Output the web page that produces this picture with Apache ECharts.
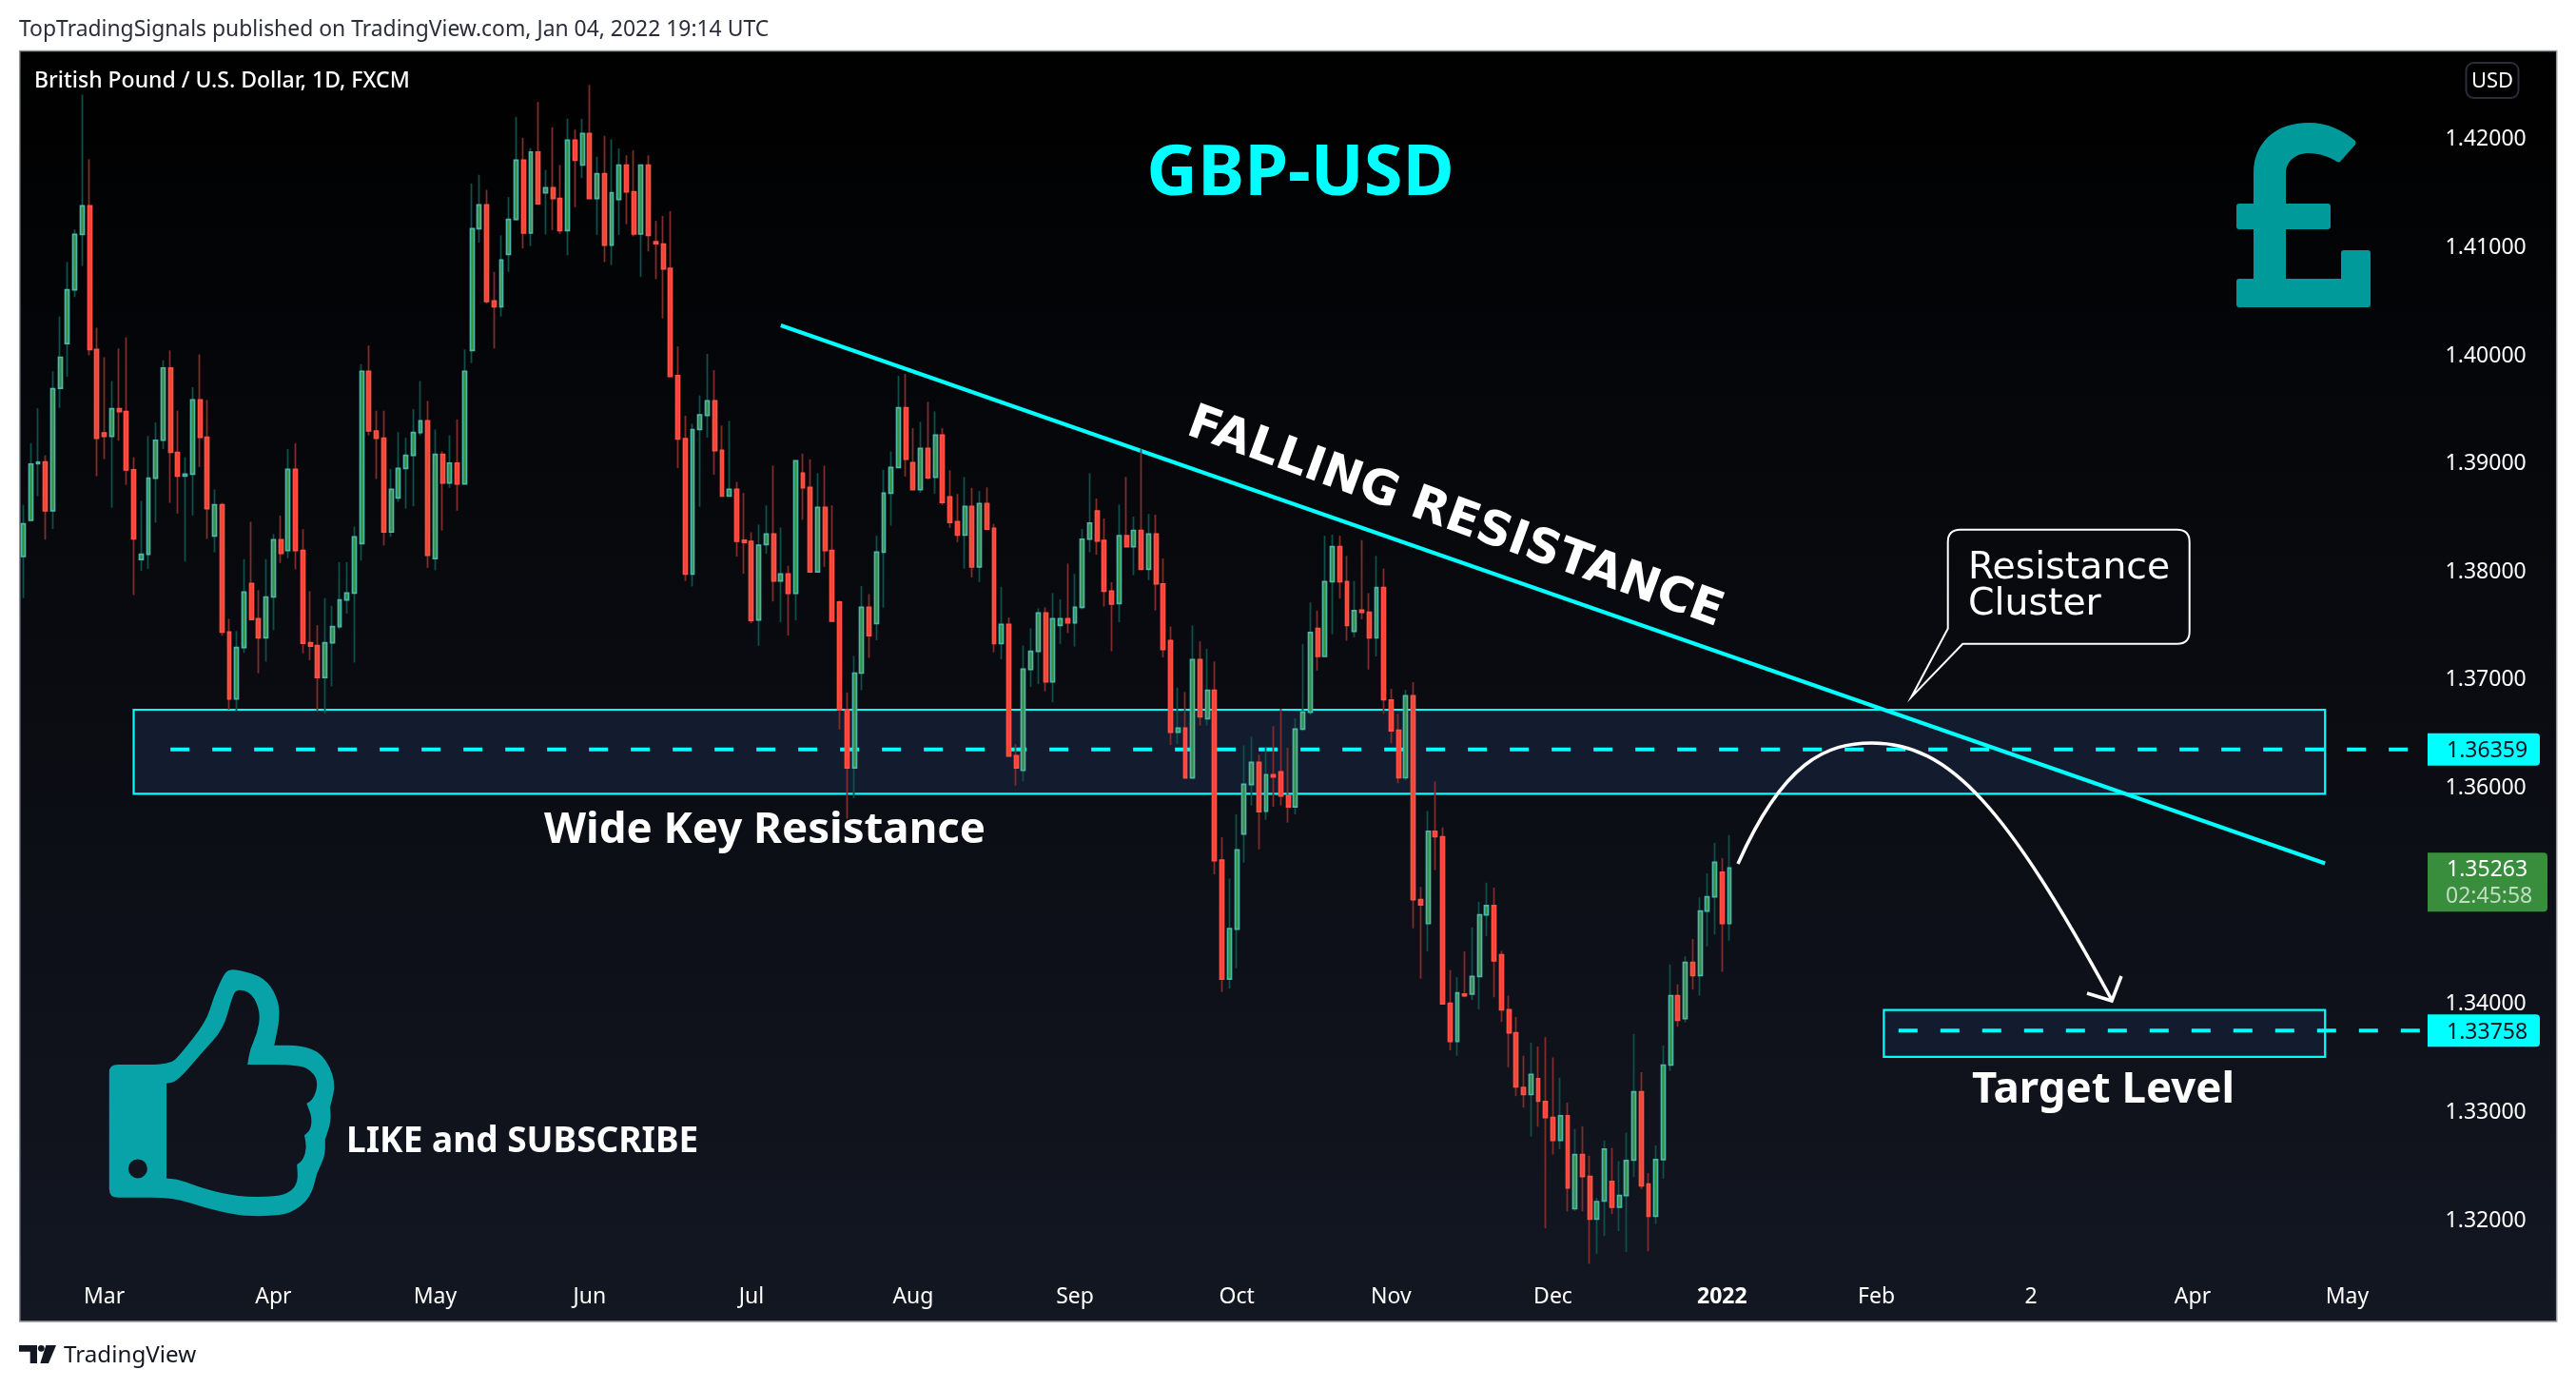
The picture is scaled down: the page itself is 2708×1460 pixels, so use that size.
<!DOCTYPE html>
<html><head><meta charset="utf-8">
<style>html,body{margin:0;padding:0;background:#fff}#c{width:2708px;height:1460px}</style>
<script src="https://cdn.jsdelivr.net/npm/echarts@6/dist/echarts.min.js"></script>
</head><body><div id="c"></div>
<script>
const OPENS=[1.38145,1.38478,1.39003,1.39017,1.38567,1.397,1.40113,1.40611,1.41123,1.41388,1.40059,1.39286,1.39255,1.39511,1.39484,1.38945,1.38115,1.38164,1.38869,1.39219,1.39888,1.39107,1.38887,1.38905,1.39592,1.39246,1.38334,1.38621,1.37445,1.36826,1.37302,1.37894,1.37567,1.37391,1.37769,1.38299,1.382,1.3895,1.382,1.37346,1.37319,1.37023,1.37346,1.37495,1.37742,1.37805,1.38263,1.39857,1.39305,1.39237,1.3837,1.38685,1.38959,1.3908,1.39291,1.39399,1.38124,1.39089,1.38824,1.39008,1.38815,1.4005,1.41177,1.41397,1.40508,1.40454,1.40939,1.41262,1.4181,1.41136,1.41886,1.41509,1.41554,1.41455,1.41159,1.41994,1.41765,1.42057,1.41455,1.41684,1.41024,1.41446,1.41765,1.41518,1.41128,1.41765,1.41056,1.41034,1.4081,
1.39816,1.39234,1.37981,1.39318,1.39449,1.39584,1.39126,1.38702,1.38766,1.38294,1.38284,1.37556,1.38254,1.38351,1.37917,1.37981,1.37802,1.38914,1.38783,1.38001,1.38597,1.382,1.37721,1.36728,1.36189,1.37065,1.37674,1.37523,1.38183,1.38729,1.38968,1.3952,1.39011,1.38762,1.39143,1.38877,1.39267,1.38695,1.38466,1.38341,1.38607,1.38048,1.38634,1.38405,1.37338,1.37516,1.363,1.36165,1.37098,1.37267,1.3762,1.36984,1.37506,1.37567,1.3753,1.37674,1.38304,1.38564,1.38291,1.37823,1.37708,1.38335,1.38234,1.38385,1.38025,1.38351,1.3789,1.37365,1.36519,1.36556,1.36095,1.37189,1.36644,1.36906,
1.35335,1.34235,1.34696,1.35576,1.36034,1.36239,1.35787,1.36125,1.36151,1.35931,1.35828,1.36547,1.36703,1.37477,1.37219,1.37911,1.38235,1.37911,1.37451,1.37648,1.37628,1.37391,1.37856,1.36815,1.36537,1.36097,1.36855,1.3497,1.34748,1.35602,1.35551,1.3401,1.33657,1.34096,1.34096,1.34258,1.34829,1.34915,1.3446,1.3395,1.33737,1.33232,1.33166,1.33313,1.33101,1.32954,1.32742,1.32969,1.3211,1.32611,1.32408,1.32014,1.32181,1.32363,1.32125,1.32232,1.3256,1.33192,1.32338,1.3204,1.32565,1.33439,1.34081,1.33869,1.34389,1.34268,1.34864,1.34996,1.35223,1.34748];
const CLOSES=[1.38446,1.38999,1.39017,1.38567,1.39695,1.39987,1.40611,1.41123,1.41388,1.40059,1.39237,1.39255,1.39511,1.39484,1.38945,1.38307,1.38164,1.38869,1.39219,1.39888,1.39107,1.38887,1.38905,1.39592,1.39246,1.38586,1.38621,1.37445,1.36826,1.37302,1.37814,1.37562,1.37391,1.37769,1.38299,1.38173,1.3895,1.382,1.37342,1.37315,1.37023,1.37346,1.37495,1.37742,1.37805,1.38325,1.39857,1.39305,1.39237,1.3837,1.38765,1.38959,1.3908,1.39291,1.39399,1.38155,1.39089,1.38824,1.39008,1.38815,1.39857,1.41177,1.41397,1.40503,1.40454,1.40885,1.41262,1.4181,1.41136,1.41886,1.41406,1.41554,1.41455,1.41159,1.41994,1.4181,1.42057,1.41455,1.41684,1.41024,1.41509,1.41765,1.41518,1.41128,1.41765,1.41114,1.41038,1.40804,1.39809,
1.3923,1.37981,1.39318,1.39453,1.39584,1.39123,1.38702,1.38766,1.38284,1.38274,1.37553,1.38247,1.38351,1.37917,1.37981,1.37802,1.39028,1.38779,1.38001,1.38597,1.382,1.37546,1.36728,1.36189,1.37065,1.37674,1.37412,1.38183,1.38729,1.38968,1.3952,1.39045,1.38762,1.39143,1.38873,1.39267,1.38644,1.38459,1.38341,1.38607,1.38048,1.38634,1.38398,1.37338,1.37516,1.36297,1.36189,1.37102,1.37267,1.3762,1.36984,1.37567,1.37567,1.3753,1.37674,1.38304,1.38452,1.38287,1.37823,1.37705,1.38335,1.38234,1.38385,1.38025,1.38351,1.3789,1.37284,1.36519,1.36556,1.36095,1.37189,1.36661,1.36906,1.3533,
1.34235,1.34702,1.35429,1.36037,1.36239,1.35784,1.36125,1.36104,1.35928,1.35828,1.36547,1.36703,1.37441,1.37219,1.37911,1.38235,1.37911,1.37507,1.37643,1.37628,1.37391,1.37856,1.3682,1.36532,1.36097,1.36855,1.3497,1.3492,1.35602,1.35551,1.34005,1.33657,1.34106,1.34081,1.34258,1.34829,1.34915,1.34404,1.3395,1.33737,1.33237,1.33166,1.33353,1.33106,1.32954,1.32742,1.32969,1.32302,1.32611,1.32408,1.32014,1.32176,1.32661,1.32125,1.32232,1.32555,1.33192,1.32322,1.3204,1.32565,1.33439,1.34081,1.33854,1.34389,1.34268,1.34864,1.34996,1.35314,1.34748,1.35263];
const LOWS=[1.37759,1.38478,1.38702,1.38299,1.38397,1.3952,1.39807,1.40544,1.40831,1.40005,1.38887,1.39044,1.38595,1.39215,1.38806,1.37787,1.38011,1.38029,1.38456,1.39138,1.3864,1.38541,1.38097,1.38523,1.38972,1.38307,1.38182,1.37409,1.36727,1.36709,1.37252,1.37553,1.37064,1.37171,1.37463,1.38083,1.38128,1.38025,1.37248,1.37185,1.36704,1.36691,1.36942,1.37472,1.37616,1.37162,1.38106,1.39264,1.3886,1.38245,1.38325,1.38649,1.38586,1.38608,1.39264,1.38038,1.38016,1.38384,1.38779,1.38567,1.3881,1.39933,1.41047,1.40485,1.40068,1.40364,1.40777,1.41249,1.40993,1.41015,1.41406,1.41123,1.41163,1.41128,1.4093,1.41375,1.41644,1.41455,1.41119,1.40867,1.4084,1.41119,1.41217,1.41105,1.40732,1.40966,1.4071,1.40346,1.39809,
1.38961,1.37917,1.37866,1.38604,1.39244,1.389,1.38702,1.38698,1.38143,1.37984,1.37526,1.37317,1.38169,1.37728,1.37536,1.37412,1.37553,1.38483,1.38001,1.38001,1.38048,1.37546,1.36543,1.35718,1.35909,1.36906,1.37206,1.37368,1.37671,1.38429,1.38968,1.38883,1.38762,1.38732,1.38857,1.38725,1.38621,1.38409,1.38277,1.38031,1.3795,1.37907,1.38398,1.37257,1.37193,1.36297,1.36024,1.36064,1.36937,1.36964,1.36896,1.36795,1.37334,1.37435,1.37311,1.37654,1.38183,1.38159,1.37681,1.37267,1.37536,1.38234,1.37971,1.38025,1.37924,1.37644,1.3721,1.36401,1.36408,1.36095,1.36095,1.3658,1.3658,1.35203,
1.34115,1.34147,1.34335,1.35312,1.3584,1.35435,1.35708,1.35828,1.3584,1.35682,1.35758,1.36527,1.36678,1.37088,1.37219,1.37426,1.37754,1.37365,1.37396,1.37562,1.37098,1.37219,1.36688,1.36415,1.36047,1.36072,1.34703,1.34238,1.3449,1.35243,1.34005,1.33576,1.33525,1.34066,1.34041,1.33955,1.34632,1.34066,1.33838,1.33419,1.33151,1.33045,1.32777,1.32868,1.31928,1.32611,1.32661,1.32085,1.3209,1.32085,1.316,1.31691,1.31858,1.3206,1.31903,1.31711,1.32403,1.32292,1.31716,1.31969,1.32388,1.33384,1.33793,1.33833,1.34137,1.34081,1.34536,1.34647,1.34303,1.34591];
const HIGHS=[1.38621,1.39192,1.39515,1.3908,1.39857,1.40364,1.40867,1.41168,1.42416,1.41819,1.40261,1.39987,1.39767,1.40068,1.40171,1.39062,1.38658,1.39259,1.39385,1.3996,1.4005,1.39493,1.39062,1.39709,1.40014,1.39592,1.38765,1.3864,1.37567,1.37454,1.38119,1.38465,1.37832,1.38119,1.38352,1.38523,1.39138,1.39192,1.38397,1.37823,1.37508,1.37759,1.37688,1.38092,1.38092,1.3842,1.39924,1.40095,1.39493,1.39493,1.38954,1.39295,1.39242,1.39507,1.39767,1.39583,1.39318,1.39116,1.39264,1.39412,1.40059,1.41595,1.41675,1.41536,1.40777,1.41114,1.41469,1.4221,1.42017,1.41922,1.42349,1.4172,1.42115,1.41765,1.42196,1.42093,1.42192,1.42506,1.41842,1.42035,1.42003,1.41918,1.41855,1.419,1.41765,1.41855,1.41249,1.41294,1.41338,
1.40086,1.39446,1.39372,1.39634,1.40019,1.39867,1.39355,1.39399,1.38833,1.38732,1.38368,1.38439,1.38617,1.38984,1.38412,1.38058,1.39028,1.39096,1.39042,1.38914,1.38984,1.38617,1.37735,1.36886,1.37223,1.3787,1.37796,1.38338,1.38944,1.39116,1.39816,1.39833,1.39331,1.39389,1.39574,1.39486,1.39331,1.38941,1.38722,1.3888,1.38779,1.38749,1.38783,1.38446,1.37863,1.3758,1.36408,1.37321,1.37479,1.37664,1.37674,1.37806,1.37748,1.38078,1.37984,1.38398,1.38914,1.38681,1.38496,1.37907,1.38624,1.3888,1.38513,1.39136,1.38537,1.3853,1.38126,1.37496,1.3693,1.3689,1.37506,1.37358,1.3729,1.37172,
1.35547,1.35165,1.35758,1.36398,1.36477,1.3631,1.3638,1.36574,1.36735,1.36374,1.36647,1.37335,1.37719,1.37643,1.38336,1.38346,1.38336,1.38149,1.37916,1.38295,1.37805,1.38149,1.38032,1.36921,1.36688,1.36911,1.36981,1.35087,1.35789,1.36062,1.35637,1.34318,1.34253,1.3449,1.34713,1.3495,1.35127,1.35081,1.34495,1.34081,1.33884,1.33525,1.33646,1.33611,1.33697,1.3351,1.33323,1.33091,1.32848,1.32873,1.326,1.32211,1.32742,1.32671,1.3255,1.32813,1.33727,1.33373,1.32439,1.32696,1.33621,1.34369,1.34187,1.34445,1.34606,1.3499,1.35213,1.35496,1.35354,1.35566];

const MONTH_LABELS=['Mar','Apr','May','Jun','Jul','Aug','Sep','Oct','Nov','Dec','2022','Feb','2','Apr','May'];
const MONTH_INDEX=[11,34,56,77,99,121,143,165,186,208,231,252,273,295,316];
const PRICE_TICKS=[1.32,1.33,1.34,1.36,1.37,1.38,1.39,1.40,1.41,1.42];
const BAND_COUNT=345;
const TREND_LINE=[[103,1.40282],[313,1.35305]];
const KEY_ZONE=[15,313,1.36726,1.35949];
const KEY_LEVEL=[[20,1.36359],[327,1.36359]];
const TARGET_ZONE=[253,313,1.33948,1.33515];
const TARGET_LEVEL=[[255,1.33758],[327,1.33758]];
const TAG_PRICES=[1.36359,1.33758,1.35263];
const TAG_TEXT=['1.36359','1.33758','1.35263'];
const COUNTDOWN='02:45:58';

const CATS=Array.from({length:BAND_COUNT},(_,i)=>String(i));
const wickData=OPENS.map((o,i)=>[o,CLOSES[i],LOWS[i],HIGHS[i]]);
const bodyData=OPENS.map((o,i)=>[o,CLOSES[i],Math.min(o,CLOSES[i]),Math.max(o,CLOSES[i])]);

const CYAN='#00ffff', UI='"Noto Sans",sans-serif', DJ='"DejaVu Sans",sans-serif';

function smooth(p){let m=(a,b)=>[(a[0]+b[0])/2,(a[1]+b[1])/2];let s=m(p[p.length-1],p[0]);let d='M'+s[0]+' '+s[1];
 p.forEach((q,i)=>{let e=m(q,p[(i+1)%p.length]);d+=' Q'+q[0]+' '+q[1]+' '+e[0]+' '+e[1];});return d+' Z';}
const thumbOuter=[[114.8,1135],[114.8,1119],[133,1119],[178.6,1119],[190,1108],[216.8,1073.6],[224.5,1048.3],[234.7,1025.2],[240,1019.3],[250,1019.3],[278,1027.3],[291.8,1048.3],[294.4,1069.4],[288.3,1098.8],[288.3,1098.8],[316.3,1098.8],[339.3,1107.2],[353.6,1136.7],[347,1164],[347,1164],[348,1178.8],[341.8,1197.7],[341.8,1197.7],[341.8,1214.6],[333.2,1233.5],[333.2,1233.5],[326.5,1258.8],[306,1275.6],[280.6,1278.5],[250,1277.7],[214.3,1269.3],[182.7,1258.8],[133.7,1258.8],[114.8,1258.8],[114.8,1240]];
const thumbInner=[[175,1138.8],[175,1138.8],[186.2,1136.7],[211.7,1107.2],[234.7,1082],[243.9,1048.3],[249,1039],[265.3,1044],[274,1065.2],[270.4,1086.2],[262.8,1103],[260.2,1119],[260.2,1119],[316.3,1119],[330.6,1128.3],[334.2,1140.9],[329.1,1155.6],[322.4,1159.9],[322.4,1159.9],[328,1174.6],[326.5,1187.2],[320,1193.5],[320,1193.5],[322.4,1206.1],[318.9,1218.8],[312.2,1224.2],[312.2,1224.2],[313.3,1241.9],[306,1252.4],[290.8,1257.9],[250,1257.9],[214.3,1249.5],[188.8,1239.8],[175,1238.6],[175,1238.6]].reverse();
const THUMB=smooth(thumbOuter)+' '+smooth(thumbInner)+' M154.9 1228.4 A10 10 0 1 0 134.9 1228.4 A10 10 0 1 0 154.9 1228.4 Z';
const POUND='M2369 182 C2369 150 2392 129 2427 129 C2447 129 2463 137 2476 148 Q2477 150 2476 152 L2460 170 Q2459 171 2457 170 C2449 165 2438 161 2427 161 C2413 161 2403 170 2403 182 L2403 214 L2447 214 Q2450 214 2450 217 L2450 238 Q2450 241 2447 241 L2403 241 L2403 293 L2461 293 L2461 266 Q2461 263 2464 263 L2489 263 Q2492 263 2492 266 L2492 320 Q2492 323 2489 323 L2354 323 Q2351 323 2351 320 L2351 296 Q2351 293 2354 293 L2369 293 L2369 241 L2354 241 Q2351 241 2351 238 L2351 217 Q2351 214 2354 214 L2369 214 Z';
const ARC='M1827 908 C1875 800 1920 781 1968 781 C2050 781 2110 850 2220 1051';
const HEAD='M2194 1044 L2220 1052 L2230 1026';
const CALLOUT='M2047.7 660.7 L2009.3 732.7 L2063.3 676.7 L2288.7 676.7 Q2301.7 676.7 2301.7 663.7 L2301.7 569.7 Q2301.7 556.7 2288.7 556.7 L2060.7 556.7 Q2047.7 556.7 2047.7 569.7 Z';

function txt(text,x,y,size,fill,weight,family,align,extra){
 const fam=family||UI;
 return Object.assign({type:'text',x,y:y+(fam===UI?2.5:0),z:30,style:{text,fill,fontSize:size,fontWeight:weight||'normal',fontFamily:fam,align:align||'left',verticalAlign:'middle'}},extra||{});
}
function zoneItem(params,api){
 const a=api.coord([api.value(0),api.value(2)]),b=api.coord([api.value(1),api.value(3)]);
 return {type:'rect',shape:{x:a[0],y:a[1],width:b[0]-a[0],height:b[1]-a[1]},style:{fill:'#131c2e',stroke:CYAN,lineWidth:2.2}};
}
function tagItem(params,api){
 const y=api.coord([0,api.value(1)])[1],i=params.dataIndex;
 if(i===2){return {type:'group',children:[
  {type:'rect',shape:{x:2552,y:y-16,width:126,height:62,r:[0,4,4,0]},style:{fill:'#388e3c'}},
  {type:'text',style:{text:TAG_TEXT[i],x:2572,y:y+2,fill:'#ffffff',fontSize:23,fontFamily:UI,verticalAlign:'middle'}},
  {type:'text',style:{text:COUNTDOWN,x:2571,y:y+30,fill:'#c3ddc4',fontSize:23,fontFamily:UI,verticalAlign:'middle'}}]};}
 return {type:'group',children:[
  {type:'rect',shape:{x:2552,y:y-17,width:118,height:34,r:[0,4,4,0]},style:{fill:CYAN}},
  {type:'text',style:{text:TAG_TEXT[i],x:2572,y:y+2,fill:'#131722',fontSize:23,fontFamily:UI,verticalAlign:'middle'}}]};
}
function decorItem(){
 return {type:'group',children:[
  {type:'path',shape:{pathData:POUND},style:{fill:'#009a9a'}},
  {type:'path',shape:{pathData:THUMB},style:{fill:'#08a3a8'}},
  {type:'path',shape:{pathData:ARC},style:{fill:'none',stroke:'#fff',lineWidth:3.5}},
  {type:'path',shape:{pathData:HEAD},style:{fill:'none',stroke:'#fff',lineWidth:3.5}},
  {type:'path',shape:{pathData:CALLOUT},style:{fill:'none',stroke:'#fff',lineWidth:2}}
 ]};
}
const chart=echarts.init(document.getElementById('c'),null,{renderer:'canvas'});
chart.setOption({
 animation:false,backgroundColor:'#ffffff',
 grid:{left:20.7,top:53.5,width:2667,height:1335.5,show:true,borderColor:'#9598a1',borderWidth:1.5,
  backgroundColor:{type:'linear',x:0,y:0,x2:0,y2:1,colorStops:[{offset:0,color:'#000000'},{offset:1,color:'#131722'}]}},
 xAxis:{type:'category',data:CATS,boundaryGap:true,axisLine:{show:false},axisTick:{show:false},splitLine:{show:false},
  axisLabel:{inside:true,margin:14,color:'#ffffff',fontSize:23,fontFamily:UI,
   interval:i=>MONTH_INDEX.includes(+i),
   formatter:(v,i)=>{const k=MONTH_INDEX.indexOf(i);if(k<0)return '';return MONTH_LABELS[k]==='2022'?'{b|2022}':MONTH_LABELS[k];},
   rich:{b:{fontWeight:'bold',fontSize:23,fontFamily:UI,color:'#ffffff'}}}},
 yAxis:{type:'value',position:'right',min:1.31067,max:1.42821,axisLine:{show:false},axisTick:{show:false},splitLine:{show:false},
  axisLabel:{inside:true,margin:32,color:'#ffffff',fontSize:23,fontFamily:UI,padding:[5,0,0,0],customValues:PRICE_TICKS,formatter:v=>v.toFixed(5)}},
 graphic:{elements:[
  txt('TopTradingSignals published on TradingView.com, Jan 04, 2022 19:14 UTC',20,29,22.9,'#2a2e39'),
  txt('British Pound / U.S. Dollar, 1D, FXCM',36,83,23,'#ffffff','500'),
  {type:'rect',z:30,shape:{x:2592.5,y:66,width:55,height:37,r:8},style:{fill:'none',stroke:'#2a2e39',lineWidth:2}},
  txt('USD',2620,83,22,'#ffffff','normal',UI,'center'),
  txt('GBP-USD',1367,181,74,CYAN,'bold',UI,'center'),
  txt('Wide Key Resistance',804,870,45.6,'#ffffff','bold',UI,'center'),
  txt('Target Level',2211,1143,45.6,'#ffffff','bold',UI,'center'),
  txt('LIKE and SUBSCRIBE',364,1198,37,'#ffffff','bold',UI),
  txt('FALLING RESISTANCE',1529.5,545,50,'#ffffff','bold',DJ,'center',{rotation:-19.9*Math.PI/180}),
  txt('Resistance',2069,598,39.4,'#ffffff','normal',DJ),
  txt('Cluster',2069,636,39.4,'#ffffff','normal',DJ),
  {type:'polygon',z:30,shape:{points:[[20,1414],[39,1414],[39,1433],[31.7,1433],[31.7,1420.7],[20,1420.7]]},style:{fill:'#131722'}},
  {type:'polygon',z:30,shape:{points:[[48.3,1414],[59,1414],[51,1433],[42.3,1433]]},style:{fill:'#131722'}},
  {type:'circle',z:30,shape:{cx:43.3,cy:1417.3,r:3.4},style:{fill:'#131722'}},
  txt('TradingView',67,1423,24.2,'#131722')
 ]},
 series:[
  {name:'zones',type:'custom',z:1,silent:true,renderItem:zoneItem,data:[KEY_ZONE,TARGET_ZONE],encode:{x:[0,1],y:[2,3]},clip:false},
  {name:'key level',type:'line',z:2,silent:true,symbol:'none',data:KEY_LEVEL,lineStyle:{color:CYAN,width:4,type:[20,24]}},
  {name:'target level',type:'line',z:2,silent:true,symbol:'none',data:TARGET_LEVEL,lineStyle:{color:CYAN,width:4,type:[20,24]}},
  {name:'falling resistance',type:'line',z:3,silent:true,symbol:'none',data:TREND_LINE,lineStyle:{color:CYAN,width:4.2}},
  {name:'wicks',type:'candlestick',z:5,silent:true,barWidth:1,data:wickData,
   itemStyle:{color:'#0e4f4a',color0:'#7f2c2b',borderColor:'#0e4f4a',borderColor0:'#7f2c2b',borderWidth:1.8}},
  {name:'GBPUSD',type:'candlestick',z:6,silent:true,barWidth:4.4,data:bodyData,
   itemStyle:{color:'#388e3c',color0:'#f44336',borderColor:'#4db6ac',borderColor0:'#ff5246',borderWidth:1.7}},
  {name:'price tags',type:'custom',z:9,silent:true,renderItem:tagItem,data:TAG_PRICES.map((p,i)=>[i,p]),encode:{x:0,y:1},clip:false},
  {name:'drawings',type:'custom',z:10,silent:true,renderItem:decorItem,data:[[0,1.4]],encode:{x:0,y:1},clip:false}
 ]
});
</script></body></html>
